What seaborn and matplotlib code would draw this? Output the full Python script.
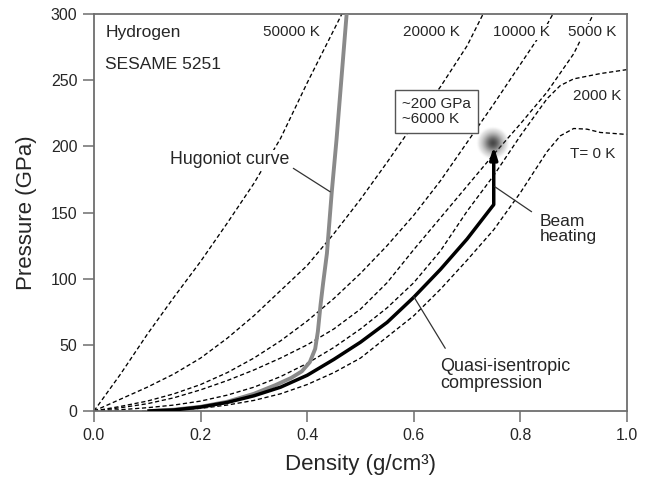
import numpy as np
import pandas as pd
import matplotlib
matplotlib.use("Agg")
import matplotlib.pyplot as plt
import seaborn as sns

# Isotherms of hydrogen (SESAME 5251): density in g/cm^3, pressure in GPa
iso_50000_rho = [0.0, 0.05, 0.10, 0.15, 0.20, 0.25, 0.30, 0.35, 0.40, 0.465]
iso_50000_p = [0, 28, 58, 86, 113, 142, 172, 206, 248, 300]

iso_20000_rho = [0.0, 0.05, 0.10, 0.15, 0.20, 0.25, 0.30, 0.35, 0.40, 0.45, 0.50, 0.55, 0.60, 0.65, 0.70, 0.73]
iso_20000_p = [0, 9, 18, 28, 40, 55, 72, 91, 110, 134, 160, 188, 217, 245, 276, 300]

iso_10000_rho = [0.0, 0.05, 0.10, 0.15, 0.20, 0.25, 0.30, 0.35, 0.40, 0.45, 0.50, 0.55, 0.60, 0.65, 0.70, 0.75, 0.80, 0.85, 0.861]
iso_10000_p = [0, 3.5, 7.5, 13, 20, 29, 40, 53, 68, 85, 104, 125, 148, 174, 203, 232, 262, 292, 300]

iso_5000_rho = [0.0, 0.05, 0.10, 0.15, 0.20, 0.25, 0.30, 0.35, 0.40, 0.45, 0.50, 0.55, 0.60, 0.65, 0.70, 0.75, 0.80, 0.85, 0.90, 0.937]
iso_5000_p = [0, 2.5, 5.5, 10, 16, 23, 31, 40, 50, 62, 77, 97, 122, 146, 170, 194, 217, 241, 270, 300]

iso_2000_rho = [0.0, 0.05, 0.10, 0.15, 0.20, 0.25, 0.30, 0.35, 0.40, 0.45, 0.50, 0.55, 0.60, 0.65, 0.70, 0.75, 0.80, 0.85, 0.875, 0.90, 0.95, 1.0]
iso_2000_p = [0, 1, 2.5, 4.5, 7.5, 12, 18, 26, 36, 48, 62, 78, 97, 121, 151, 178, 208, 236, 246, 251, 255, 258]

iso_0_rho = [0.09, 0.15, 0.20, 0.25, 0.30, 0.35, 0.40, 0.45, 0.50, 0.55, 0.60, 0.65, 0.70, 0.75, 0.80, 0.85, 0.875, 0.90, 0.925, 0.95, 1.0]
iso_0_p = [0, 0.5, 2, 4.5, 8, 13, 20, 29, 40, 56, 72, 92, 114, 137, 165, 196, 208, 213.5, 213, 210.5, 209]

# Principal Hugoniot
hug_rho = [0.105, 0.15, 0.20, 0.25, 0.30, 0.34, 0.37, 0.39, 0.405, 0.415, 0.42, 0.425, 0.43, 0.437, 0.446, 0.455, 0.462, 0.468, 0.474]
hug_p = [0, 1, 3.2, 7, 13, 19.5, 25, 30, 37, 47, 60, 80, 97, 119, 165, 205, 240, 270, 300]

# Quasi-isentropic compression path
qi_rho = [0.10, 0.15, 0.20, 0.25, 0.30, 0.35, 0.40, 0.45, 0.50, 0.55, 0.60, 0.65, 0.70, 0.75]
qi_p = [0, 0.8, 3, 6.5, 11.5, 18, 27, 39, 52, 67, 86, 107, 130, 156]

# Beam heating end state
beam_rho = 0.75
beam_p_end = 200
target_rho = 0.749
target_p = 202.5

isotherm_labels = ["50000 K", "20000 K", "10000 K", "5000 K", "2000 K", "T= 0 K"]
isotherm_label_x = [0.317, 0.579, 0.749, 0.889, 0.899, 0.893]
isotherm_label_y = [286.5, 286.5, 286.5, 286.5, 238, 194]

x_ticks = [0.0, 0.2, 0.4, 0.6, 0.8, 1.0]
y_ticks = [0, 50, 100, 150, 200, 250, 300]

sns.set_style("ticks")
plt.rcParams["font.family"] = ["Liberation Sans", "DejaVu Sans"]

TEXT = "#262626"
SPINE = "#6e6e6e"

fig = plt.figure(figsize=(6.5, 4.84), dpi=100)
ax = fig.add_axes([0.1446, 0.1508, 0.82, 0.8202])

isotherms = [
    (iso_50000_rho, iso_50000_p),
    (iso_20000_rho, iso_20000_p),
    (iso_10000_rho, iso_10000_p),
    (iso_5000_rho, iso_5000_p),
    (iso_2000_rho, iso_2000_p),
    (iso_0_rho, iso_0_p),
]
for (rho, p), name in zip(isotherms, isotherm_labels):
    df = pd.DataFrame({"rho": rho, "p": p})
    sns.lineplot(data=df, x="rho", y="p", ax=ax, sort=False, estimator=None,
                 color="black", linewidth=0.95, linestyle=(0, (3.2, 2.0)), zorder=2)

hug = pd.DataFrame({"rho": hug_rho, "p": hug_p})
sns.lineplot(data=hug, x="rho", y="p", ax=ax, sort=False, estimator=None,
             color="#8a8a8a", linewidth=2.8, zorder=3)

qi = pd.DataFrame({"rho": qi_rho, "p": qi_p})
sns.lineplot(data=qi, x="rho", y="p", ax=ax, sort=False, estimator=None,
             color="black", linewidth=2.5, zorder=4, solid_capstyle="butt")

# Beam heating: vertical arrow from the end of the compression path
ax.annotate("", xy=(beam_rho, beam_p_end), xytext=(beam_rho, qi_p[-1]),
            arrowprops=dict(arrowstyle="-|>,head_width=0.22,head_length=0.7",
                            lw=2.5, color="black", shrinkA=0, shrinkB=0),
            zorder=6)

# Blurred spot marking the heated state
gx = np.linspace(-1, 1, 101)
gy = np.linspace(-1, 1, 101)
GX, GY = np.meshgrid(gx, gy)
r2 = GX ** 2 + GY ** 2
alpha = np.exp(-r2 / (2 * 0.42 ** 2)) * np.clip((1 - r2) * 3, 0, 1)
rgba = np.zeros((101, 101, 4))
rgba[..., :3] = 0.25
rgba[..., 3] = alpha * 0.95
half_w = 17 / 533
half_h = 17 * 300 / 397
ax.imshow(rgba, extent=[target_rho - half_w, target_rho + half_w,
                        target_p - half_h, target_p + half_h],
          aspect="auto", zorder=5, interpolation="bilinear")

ax.set_xlim(0, 1.0)
ax.set_ylim(0, 300)
ax.set_xticks(x_ticks)
ax.set_xticklabels([f"{v:.1f}" for v in x_ticks])
ax.set_yticks(y_ticks)
ax.set_yticklabels([str(v) for v in y_ticks])
ax.tick_params(axis="both", direction="out", length=8, width=1.1, color=SPINE,
               labelsize=11.5, labelcolor=TEXT, pad=4)
for s in ax.spines.values():
    s.set_color(SPINE)
    s.set_linewidth(1.3)
    s.set_visible(True)

ax.set_xlabel("Density (g/cm³)", fontsize=16, color=TEXT, labelpad=8)
ax.set_ylabel("Pressure (GPa)", fontsize=16, color=TEXT, labelpad=10)

white_box = dict(facecolor="white", edgecolor="none", pad=1.0)

ax.text(0.021, 285.7, "Hydrogen", fontsize=12.5, color=TEXT, va="center", ha="left")
ax.text(0.021, 261.5, "SESAME 5251", fontsize=12.5, color=TEXT, va="center", ha="left")

for lab, lx, ly in zip(isotherm_labels, isotherm_label_x, isotherm_label_y):
    ax.text(lx, ly, lab, fontsize=11, color=TEXT, va="center", ha="left",
            bbox=white_box, zorder=7)

ax.text(0.143, 189.7, "Hugoniot curve", fontsize=12.8, color=TEXT, va="center",
        ha="left", bbox=white_box, zorder=7)
ax.plot([0.374, 0.443], [183.4, 165.7], color="#333333", lw=0.9, zorder=7)

ax.text(0.578, 226.3, "~200 GPa\n~6000 K", fontsize=11, color=TEXT, va="center",
        ha="left", linespacing=1.1, zorder=8,
        bbox=dict(facecolor="white", edgecolor="#555555", linewidth=1.0,
                  boxstyle="square,pad=0.45"))

ax.text(0.837, 137.5, "Beam\nheating", fontsize=12.5, color=TEXT, va="center",
        ha="left", linespacing=1.0, zorder=7)
ax.plot([0.752, 0.821], [169.5, 150.6], color="#333333", lw=0.9, zorder=7)

ax.text(0.649, 27.2, "Quasi-isentropic\ncompression", fontsize=13, color=TEXT,
        va="center", ha="left", linespacing=0.95, zorder=7)
ax.plot([0.600, 0.659], [86.4, 47.4], color="#333333", lw=0.9, zorder=7)

fig.savefig("out.png", dpi=100)
